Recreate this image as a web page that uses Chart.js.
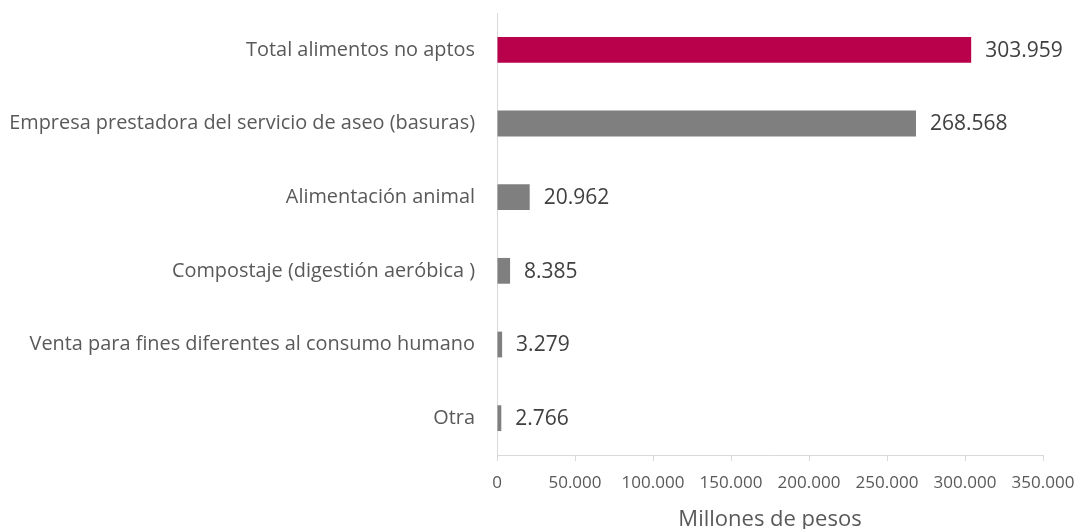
<!DOCTYPE html>
<html lang="es">
<head>
    <meta charset="UTF-8">
    <title>Destino de alimentos no aptos</title>
    <script src="https://cdn.jsdelivr.net/npm/chart.js"></script>
    <style>
        html, body {
            margin: 0;
            padding: 0;
            background: #ffffff;
        }
        .chart-container {
            width: 1078px;
            height: 529px;
        }
    </style>
</head>
<body>
    <div class="chart-container">
        <canvas id="destinoChart" width="1078" height="529"></canvas>
    </div>

    <script>
        // Data
        const categories = [
            'Total alimentos no aptos',
            'Empresa prestadora del servicio de aseo (basuras)',
            'Alimentación animal',
            'Compostaje (digestión aeróbica )',
            'Venta para fines diferentes al consumo humano',
            'Otra'
        ];
        const values = [303959, 268568, 20962, 8385, 3279, 2766];
        const barColors = ['#b8004b', '#7f7f7f', '#7f7f7f', '#7f7f7f', '#7f7f7f', '#7f7f7f'];
        const xTicks = [0, 50000, 100000, 150000, 200000, 250000, 300000, 350000];
        const axisTitle = 'Millones de pesos';

        const FONT = "'Open Sans', 'Noto Sans', sans-serif";

        // Format numbers with dot as thousands separator
        function fmt(v) {
            return String(Math.round(v)).replace(/\B(?=(\d{3})+(?!\d))/g, '.');
        }

        // Draw value labels at the end of each bar
        const valueLabels = {
            id: 'valueLabels',
            afterDatasetsDraw(chart) {
                const ctx = chart.ctx;
                const meta = chart.getDatasetMeta(0);
                ctx.save();
                ctx.font = '21px ' + FONT;
                ctx.fillStyle = '#404040';
                ctx.textAlign = 'left';
                ctx.textBaseline = 'middle';
                meta.data.forEach((bar, i) => {
                    ctx.fillText(fmt(values[i]), bar.x + 14, bar.y + 1);
                });
                ctx.restore();
            }
        };

        const ctx = document.getElementById('destinoChart').getContext('2d');
        const chart = new Chart(ctx, {
            type: 'bar',
            data: {
                labels: categories,
                datasets: [{
                    data: values,
                    backgroundColor: barColors,
                    borderWidth: 0,
                    barPercentage: 0.35,
                    categoryPercentage: 1
                }]
            },
            options: {
                indexAxis: 'y',
                responsive: false,
                animation: false,
                devicePixelRatio: 1,
                layout: {
                    padding: { top: 13, right: 0, bottom: 0, left: 0 }
                },
                plugins: {
                    legend: { display: false },
                    tooltip: { enabled: false }
                },
                scales: {
                    x: {
                        min: 0,
                        max: 350000,
                        afterBuildTicks(scale) {
                            scale.ticks = xTicks.map(v => ({ value: v }));
                        },
                        afterFit(scale) {
                            scale.height = 74;
                            scale.paddingLeft = 0;
                            scale.paddingRight = 35;
                        },
                        grid: {
                            display: true,
                            drawOnChartArea: false,
                            drawTicks: true,
                            tickLength: 6,
                            color: '#d9d9d9'
                        },
                        border: { display: true, color: '#d9d9d9', width: 1 },
                        ticks: {
                            padding: 12,
                            maxRotation: 0,
                            autoSkip: false,
                            color: '#595959',
                            font: { family: FONT, size: 17 },
                            callback: (v) => fmt(v)
                        },
                        title: {
                            display: true,
                            text: axisTitle,
                            color: '#595959',
                            font: { family: FONT, size: 22, lineHeight: 0.8 },
                            padding: { top: 0, bottom: 0 }
                        }
                    },
                    y: {
                        afterFit(scale) {
                            scale.width = 497;
                            scale.paddingTop = 0;
                            scale.paddingBottom = 0;
                        },
                        grid: { display: false, drawTicks: false },
                        border: { display: true, color: '#d9d9d9', width: 1 },
                        ticks: {
                            padding: 22,
                            color: '#595959',
                            font: { family: FONT, size: 19.9 }
                        }
                    }
                }
            },
            plugins: [valueLabels]
        });
    </script>
</body>
</html>
